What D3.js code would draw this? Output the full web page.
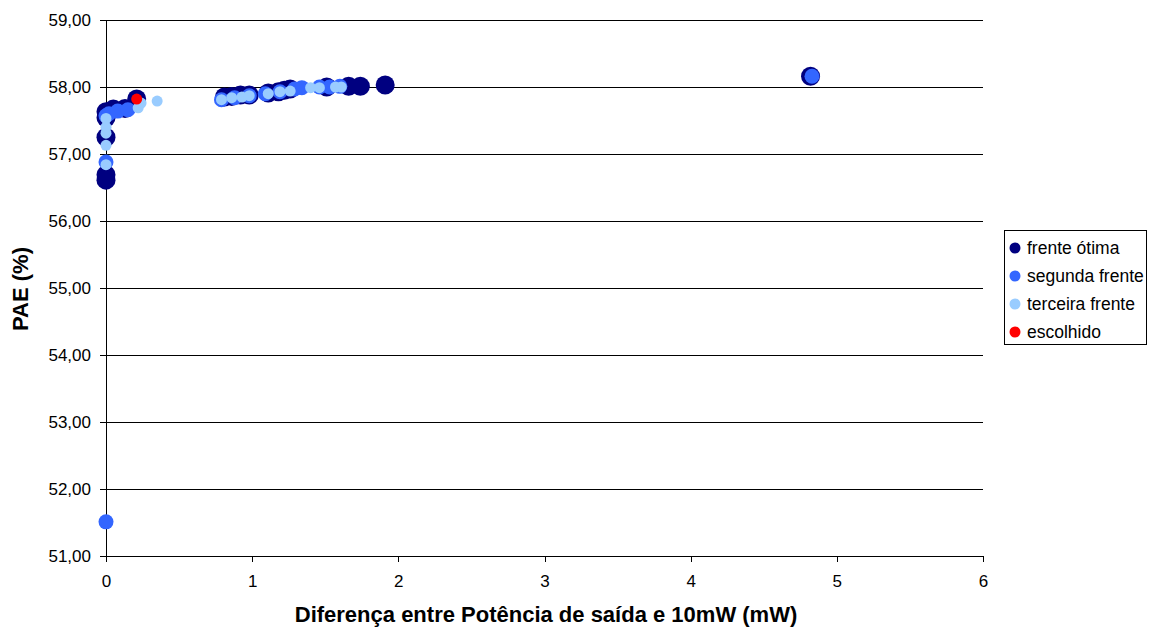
<!DOCTYPE html>
<html><head><meta charset="utf-8">
<script src="https://cdn.jsdelivr.net/npm/d3@7"></script>
<style>body{margin:0;background:#fff;} svg{display:block;font-family:"Liberation Sans",Arial,sans-serif;}</style>
</head><body><svg id="c" width="1152" height="629"></svg>
<script>
const xTicks = [0,1,2,3,4,5,6];
const yTicks = [51,52,53,54,55,56,57,58,59];
const seriesNames = ["frente ótima","segunda frente","terceira frente","escolhido"];
const seriesColors = ["#000080","#3366FF","#99CCFF","#FF0000"];
const frenteOtimaX = [0,0,0,0,0,0.05,0.13,0.21,0.81,0.86,0.92,0.98,1.11,1.18,1.22,1.26,1.51,1.66,1.74,1.91,4.82];
const frenteOtimaY = [56.61,56.69,57.25,57.54,57.63,57.67,57.68,57.82,57.85,57.86,57.88,57.88,57.91,57.93,57.95,57.97,58.00,58.01,58.01,58.03,58.16];
const segundaX = [0,0,0,0.02,0.08,0.15,0.79,0.88,0.98,1.09,1.19,1.29,1.34,1.46,1.53,1.60,4.83];
const segundaY = [51.51,56.88,57.57,57.60,57.64,57.66,57.81,57.84,57.87,57.90,57.93,57.97,57.99,58.00,58.00,58.01,58.16];
const terceiraX = [0,0,0,0,0,0.22,0.24,0.35,0.79,0.86,0.93,0.98,1.11,1.19,1.26,1.40,1.46,1.57,1.61];
const terceiraY = [56.84,57.13,57.31,57.40,57.53,57.69,57.76,57.79,57.81,57.84,57.85,57.87,57.90,57.93,57.94,57.99,57.99,58.00,58.00];
const escolhidoX = [0.21];
const escolhidoY = [57.82];

const svg = d3.select("#c");
const x = d3.scaleLinear().domain([0,6]).range([106,983]);
const y = d3.scaleLinear().domain([51,59]).range([556,20]);

svg.append("g").selectAll("line").data(yTicks.filter(d=>d>51)).join("line")
  .attr("x1",x(0)).attr("x2",x(6)).attr("y1",d=>y(d)).attr("y2",d=>y(d))
  .attr("stroke","#000").attr("stroke-width",1).attr("shape-rendering","crispEdges");

const fmt = d => d3.format(".2f")(d).replace(".",",");
const ya = svg.append("g").attr("transform",`translate(${x(0)},0)`)
  .call(d3.axisLeft(y).tickValues(yTicks).tickFormat(fmt).tickSize(6).tickPadding(9));
const xa = svg.append("g").attr("transform",`translate(0,${y(51)})`)
  .call(d3.axisBottom(x).tickValues(xTicks).tickFormat(d3.format("d")).tickSize(6).tickPadding(13));
[ya,xa].forEach(a=>{
  a.select(".domain").attr("stroke","#000").attr("shape-rendering","crispEdges");
  a.selectAll(".tick line").attr("stroke","#000").attr("shape-rendering","crispEdges");
  a.selectAll("text").attr("font-size",17).attr("fill","#000").attr("font-family","Liberation Sans, Arial, sans-serif");
});
ya.select(".domain").attr("d",`M0,${y(59)}V${y(51)}`);
xa.select(".domain").attr("d",`M${x(0)},0H${x(6)}`);

const sets = [
  {xs:frenteOtimaX, ys:frenteOtimaY, r:9.5, c:seriesColors[0]},
  {xs:segundaX, ys:segundaY, r:7.5, c:seriesColors[1]},
  {xs:terceiraX, ys:terceiraY, r:5.5, c:seriesColors[2]},
  {xs:escolhidoX, ys:escolhidoY, r:5.5, c:seriesColors[3]}
];
sets.forEach(s=>{
  svg.append("g").selectAll("circle").data(d3.range(s.xs.length)).join("circle")
    .attr("cx",i=>x(s.xs[i])).attr("cy",i=>y(s.ys[i])).attr("r",s.r).attr("fill",s.c);
});

svg.append("text").attr("x",546).attr("y",622).attr("text-anchor","middle")
  .attr("font-size",22).attr("font-weight","bold").text("Diferença entre Potência de saída e 10mW (mW)");
svg.append("text").attr("transform","translate(28,289) rotate(-90)").attr("text-anchor","middle")
  .attr("font-size",22).attr("font-weight","bold").text("PAE (%)");

const lg = svg.append("g");
lg.append("rect").attr("x",1004.5).attr("y",230.5).attr("width",142).attr("height",114)
  .attr("fill","#fff").attr("stroke","#000").attr("stroke-width",1);
seriesNames.forEach((n,i)=>{
  const yy = 248 + i*28;
  lg.append("circle").attr("cx",1015).attr("cy",yy).attr("r",5.5).attr("fill",seriesColors[i]);
  lg.append("text").attr("x",1027).attr("y",yy+6).attr("font-size",17.5).text(n);
});
</script></body></html>
